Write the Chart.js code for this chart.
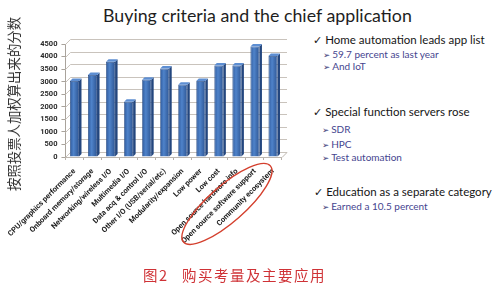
<!DOCTYPE html>
<html>
<head>
<meta charset="utf-8">
<script src="https://cdn.jsdelivr.net/npm/chart.js@4"></script>
<style>
  html, body { margin: 0; padding: 0; background: #fff; }
  body { width: 501px; height: 287px; position: relative; overflow: hidden; font-family: Lato, "Noto Sans", sans-serif; }
  #wrap { position: absolute; left: 0; top: 0; width: 300px; height: 287px; }
  .title { position: absolute; left: 103px; top: 3px; font-size: 17.8px; color: #1e1e1e; white-space: nowrap; line-height: 24px; }
  .ytitle { position: absolute; left: 13px; top: 104px; transform: translate(-50%, -50%) rotate(-90deg);
            font-family: "Noto Sans CJK SC", sans-serif; font-weight: 400; font-size: 13.4px; color: #333; white-space: nowrap; line-height: 16px; }
  .pt { position: absolute; white-space: nowrap; font-size: 11.5px; color: #151515; line-height: 14px; }
  .pt .ck { font-family: "DejaVu Sans", sans-serif; font-size: 11px; margin-right: 3px; }
  .sub { position: absolute; white-space: nowrap; font-size: 10px; color: #45458f; line-height: 12px; }
  .sub .ar { font-family: "DejaVu Sans", sans-serif; font-size: 8.5px; margin-right: 2px; color: #40407a; }
  .cap { position: absolute; top: 266px; font-family: "Noto Sans CJK SC", sans-serif; font-size: 14.5px; color: #cf3236; white-space: nowrap; line-height: 18px; letter-spacing: 1.5px; }
</style>
</head>
<body>
<div class="title">Buying criteria and the chief application</div>
<div id="wrap"><canvas id="chart"></canvas></div>
<div class="ytitle">按照投票人加权算出来的分数</div>

<div class="pt" style="left:313px; top:33px;"><span class="ck">✓</span>Home automation leads app list</div>
<div class="sub" style="left:323px; top:48px;"><span class="ar">➢</span>59.7 percent as last year</div>
<div class="sub" style="left:323px; top:60px;"><span class="ar">➢</span>And IoT</div>

<div class="pt" style="left:313px; top:105px;"><span class="ck">✓</span>Special function servers rose</div>
<div class="sub" style="left:322px; top:123px;"><span class="ar">➢</span>SDR</div>
<div class="sub" style="left:322px; top:138px;"><span class="ar">➢</span>HPC</div>
<div class="sub" style="left:322px; top:151px;"><span class="ar">➢</span>Test automation</div>

<div class="pt" style="left:314px; top:185px;"><span class="ck">✓</span>Education as a separate category</div>
<div class="sub" style="left:322px; top:200px;"><span class="ar">➢</span>Earned a 10.5 percent</div>

<div class="cap" style="left:143px;">图2</div>
<div class="cap" style="left:182px;">购买考量及主要应用</div>

<script>
// Buying criteria, weighted score from voters
const categories = [
  'CPU/graphics performance',
  'Onboard memory/storage',
  'Networking/wireless I/O',
  'Multimedia I/O',
  'Data acq & control I/O',
  'Other I/O (USB/serial/etc)',
  'Modularity/expansion',
  'Low power',
  'Low cost',
  'Open source hardware info',
  'Open source software support',
  'Community ecosystem'
];
const scores = [3030, 3270, 3790, 2200, 3080, 3520, 2880, 3030, 3640, 3640, 4400, 4020];
const yTicks = [0, 500, 1000, 1500, 2000, 2500, 3000, 3500, 4000, 4500];

// how far the back wall sits behind the bars (3D look)
const DEPTH = 5;

// back wall grid lines, drawn shifted up-right from the tick positions
const backWall = {
  id: 'backWall',
  beforeDatasetsDraw(chart) {
    const { ctx, chartArea: a, scales: { y } } = chart;
    ctx.save();
    ctx.lineWidth = 1;
    ctx.strokeStyle = '#c9c3bc';
    yTicks.forEach(v => {
      const py = Math.round(y.getPixelForValue(v) - DEPTH) + 0.5;
      ctx.beginPath();
      ctx.moveTo(a.left, py + DEPTH);
      ctx.lineTo(a.left + DEPTH, py);
      ctx.lineTo(a.right + DEPTH, py);
      ctx.stroke();
    });
    // floor edge
    ctx.strokeStyle = '#bdb7b0';
    ctx.beginPath();
    ctx.moveTo(a.left, a.bottom + 0.5);
    ctx.lineTo(a.right, a.bottom + 0.5);
    ctx.lineTo(a.right + DEPTH, a.bottom - DEPTH + 0.5);
    ctx.stroke();
    ctx.restore();
  }
};

// side and top faces of each bar
const barFaces = {
  id: 'barFaces',
  afterDatasetsDraw(chart) {
    const { ctx } = chart;
    const meta = chart.getDatasetMeta(0);
    ctx.save();
    meta.data.forEach(bar => {
      const r = bar.x + bar.width / 2, l = bar.x - bar.width / 2, t = bar.y, b = bar.base;
      const d = 2.5;
      ctx.fillStyle = '#23467e';
      ctx.beginPath();
      ctx.moveTo(r, t); ctx.lineTo(r + d, t - d); ctx.lineTo(r + d, b - d); ctx.lineTo(r, b); ctx.closePath();
      ctx.fill();
      ctx.fillStyle = '#5d8ed2';
      ctx.beginPath();
      ctx.moveTo(l, t); ctx.lineTo(l + d, t - d); ctx.lineTo(r + d, t - d); ctx.lineTo(r, t); ctx.closePath();
      ctx.fill();
    });
    ctx.restore();
  }
};

// red ring around the last three criteria labels
const ring = {
  id: 'ring',
  afterDraw(chart) {
    const { ctx, chartArea: a, scales: { x } } = chart;
    const step = x.getPixelForValue(1) - x.getPixelForValue(0);
    const cx = x.getPixelForValue(10) - 1.55 * step;
    const cy = a.bottom + 2.6 * step;
    ctx.save();
    ctx.strokeStyle = '#d4402e';
    ctx.lineWidth = 1.4;
    ctx.beginPath();
    ctx.ellipse(cx, cy, 3.2 * step, 1.0 * step, -0.72, 0, Math.PI * 2);
    ctx.stroke();
    ctx.restore();
  }
};

const tickFont = { family: 'Roboto, Lato, sans-serif', size: 7.5, weight: 'bold' };

new Chart(document.getElementById('chart'), {
  type: 'bar',
  data: {
    labels: categories,
    datasets: [{
      data: scores,
      backgroundColor(c) {
        const ch = c.chart, a = ch.chartArea;
        if (!a || c.dataIndex === undefined) return '#3f70b8';
        const px = ch.scales.x.getPixelForValue(c.dataIndex);
        const w = (a.right - a.left) / categories.length * 0.5;
        const g = ch.ctx.createLinearGradient(px - w / 2, 0, px + w / 2, 0);
        g.addColorStop(0, '#2f5b9e');
        g.addColorStop(0.4, '#4f83ca');
        g.addColorStop(1, '#2d5593');
        return g;
      },
      borderColor: '#2a4d86',
      borderWidth: 0.8,
      categoryPercentage: 1,
      barPercentage: 0.5
    }]
  },
  options: {
    responsive: true,
    maintainAspectRatio: false,
    animation: false,
    layout: { padding: { top: 44, right: 18, left: 0, bottom: 0 } },
    plugins: { legend: { display: false }, tooltip: { enabled: false }, title: { display: false } },
    scales: {
      x: {
        afterFit(s) { s.height = 130; },
        grid: { drawOnChartArea: false, tickLength: 3, color: '#b8b2ab' },
        border: { display: false },
        ticks: { font: tickFont, color: '#1c1c1c', minRotation: 45, maxRotation: 45, autoSkip: false, padding: 7 }
      },
      y: {
        min: 0,
        max: 4500,
        afterFit(s) { s.width = 61; },
        afterBuildTicks(s) { s.ticks = yTicks.map(v => ({ value: v })); },
        grid: { drawOnChartArea: false, tickLength: 4, color: '#a9a39c' },
        border: { display: true, color: '#a9a39c' },
        ticks: { font: tickFont, color: '#2a2a2a', padding: 4, callback: v => String(v) }
      }
    }
  },
  plugins: [backWall, barFaces, ring]
});
</script>
</body>
</html>
